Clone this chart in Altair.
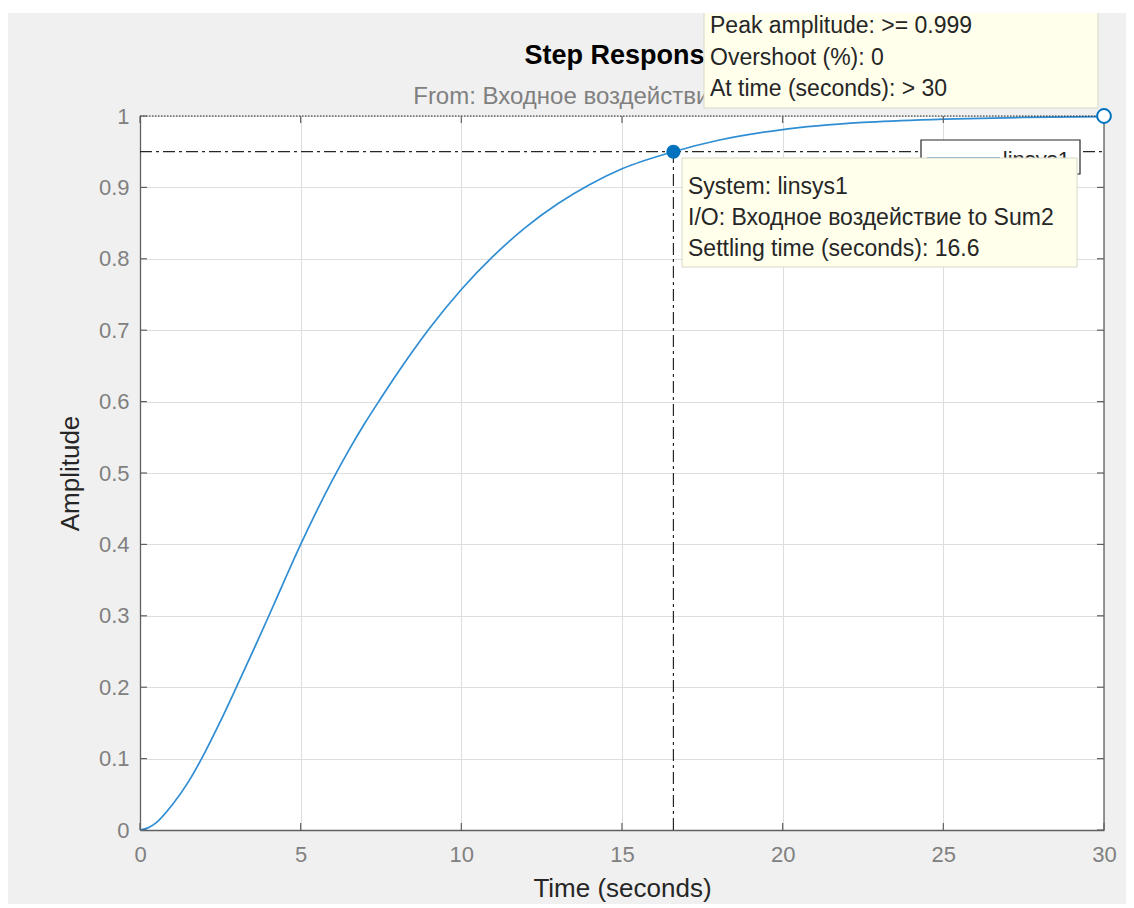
import altair as alt
import pandas as pd

# ---- data ----
time_s = [0, 0.25, 0.5, 1, 1.5, 2, 2.5, 3, 3.5, 4, 4.5, 5, 5.5, 6, 6.5, 7, 7.5, 8, 9, 10,
          11, 12, 13, 14, 15, 16.6, 18, 20, 22.5, 25, 27.5, 30]
amplitude = [0, 0.003, 0.010, 0.035, 0.067, 0.107, 0.152, 0.200, 0.249, 0.299, 0.350,
             0.400, 0.447, 0.491, 0.532, 0.570, 0.605, 0.639, 0.702, 0.757, 0.804,
             0.844, 0.877, 0.904, 0.926, 0.950, 0.966, 0.981, 0.991, 0.9955, 0.998, 0.999]

x_ticks = [0, 5, 10, 15, 20, 25, 30]
y_ticks = [0, 0.1, 0.2, 0.3, 0.4, 0.5, 0.6, 0.7, 0.8, 0.9, 1.0]

settling_time = 16.6
settling_level = 0.95
final_value = 1.0
peak_time = 30
peak_value = 1.0

title_text = "Step Response"
subtitle_text = "From: Входное воздействие  To: Sum2"
tip_peak = ["Peak amplitude: >= 0.999", "Overshoot (%): 0", "At time (seconds): > 30"]
tip_settle = ["System: linsys1", "I/O: Входное воздействие to Sum2", "Settling time (seconds): 16.6"]
legend_label = "linsys1"

W, H = 964, 714
FONT = "Liberation Sans"
BLUE = "#0072BD"
LINE_BLUE = "#2f8dd3"

curve = pd.DataFrame({"t": time_s, "a": amplitude})
xt = pd.DataFrame({"t": x_ticks})
yt = pd.DataFrame({"a": y_ticks})
one = pd.DataFrame({"k": [0]})

xs = alt.Scale(domain=[0, 30], nice=False, zero=False)
ys = alt.Scale(domain=[0, 1], nice=False, zero=False)

AX = alt.Axis(
    values=x_ticks, title="Time (seconds)", grid=True, gridColor="#dedede",
    ticks=False, tickSize=0, domainColor="#606060", domainWidth=1.3,
    labelColor="#808080", labelFontSize=22, labelFont=FONT, labelPadding=14,
    labelFlush=False, format="~g",
    titleFontSize=26, titleFont=FONT, titleColor="#262626", titleFontWeight="normal",
    titleBaseline="alphabetic", titleY=66)
AY = alt.Axis(
    values=y_ticks, title="Amplitude", grid=True, gridColor="#dedede",
    ticks=False, tickSize=0, domainColor="#606060", domainWidth=1.3,
    labelColor="#808080", labelFontSize=22, labelFont=FONT, labelPadding=11,
    labelFlush=False, format=".1~f",
    titleFontSize=26, titleFont=FONT, titleColor="#262626", titleFontWeight="normal",
    titleAngle=270, titleBaseline="alphabetic", titleAlign="center",
    titleX=-62, titleY=H / 2)


def X(field="t"):
    return alt.X(f"{field}:Q", scale=xs, axis=AX)


def Y(field="a"):
    return alt.Y(f"{field}:Q", scale=ys, axis=AY)


line = alt.Chart(curve).mark_line(color=LINE_BLUE, strokeWidth=1.7, interpolate="monotone").encode(
    x=X(), y=Y())

# inward ticks on all four sides
tick_style = dict(color="#606060", strokeWidth=1.2)
ticks_bottom = alt.Chart(xt).mark_rule(**tick_style).encode(x=X(), y=alt.value(H), y2=alt.value(H - 7))
ticks_top = alt.Chart(xt).mark_rule(**tick_style).encode(x=X(), y=alt.value(0), y2=alt.value(7))
ticks_left = alt.Chart(yt).mark_rule(**tick_style).encode(y=Y(), x=alt.value(0), x2=alt.value(7))
ticks_right = alt.Chart(yt).mark_rule(**tick_style).encode(y=Y(), x=alt.value(W), x2=alt.value(W - 7))
right_border = alt.Chart(one).mark_rule(color="#606060", strokeWidth=1.3).encode(
    x=alt.value(W), y=alt.value(0), y2=alt.value(H))

# steady-state dotted line (top)
steady = alt.Chart(pd.DataFrame({"a": [final_value], "t": [0], "t2": [30]})).mark_rule(
    color="#222222", strokeWidth=1, strokeDash=[1.5, 1.5]).encode(x=X(), x2="t2:Q", y=Y())

# settling dash-dot lines
dashdot = [12, 4, 3, 4]
h_settle = alt.Chart(pd.DataFrame({"a": [settling_level], "t": [0], "t2": [30]})).mark_rule(
    color="#262626", strokeWidth=1.2, strokeDash=dashdot).encode(x=X(), x2="t2:Q", y=Y())
v_settle = alt.Chart(pd.DataFrame({"t": [settling_time], "a": [0], "a2": [settling_level]})).mark_rule(
    color="#262626", strokeWidth=1.2, strokeDash=dashdot).encode(x=X(), y=Y(), y2="a2:Q")

# title and subtitle
title_mark = alt.Chart(one).mark_text(
    text=title_text, align="center", baseline="alphabetic", fontSize=27, fontWeight="bold",
    font=FONT, color="#000000").encode(x=alt.value(W / 2), y=alt.value(-52))
subtitle_mark = alt.Chart(one).mark_text(
    text=subtitle_text, align="center", baseline="alphabetic", fontSize=24,
    font=FONT, color="#808080").encode(x=alt.value(W / 2), y=alt.value(-12))

# legend box (partly hidden)
legend_box = alt.Chart(one).mark_rect(fill="white", stroke="#262626", strokeWidth=1.2).encode(
    x=alt.value(781), x2=alt.value(940), y=alt.value(24), y2=alt.value(58))
legend_sample = alt.Chart(one).mark_rule(color=LINE_BLUE, strokeWidth=1.5).encode(
    x=alt.value(787), x2=alt.value(860), y=alt.value(42))
legend_text = alt.Chart(one).mark_text(
    text=legend_label, align="right", baseline="alphabetic", fontSize=22, font=FONT, color="#262626"
).encode(x=alt.value(930), y=alt.value(51))

# markers
settle_pt = alt.Chart(pd.DataFrame({"t": [settling_time], "a": [settling_level]})).mark_point(
    shape="circle", filled=True, size=200, color=BLUE, opacity=1).encode(x=X(), y=Y())
peak_pt = alt.Chart(pd.DataFrame({"t": [peak_time], "a": [peak_value]})).mark_point(
    shape="circle", filled=True, size=190, fill="white", stroke=BLUE, strokeWidth=2, opacity=1
).encode(x=X(), y=Y())

# data tips
tip_box_style = dict(fill="#ffffec", stroke="#d8d8c8", strokeWidth=1)
tip1_box = alt.Chart(one).mark_rect(**tip_box_style).encode(
    x=alt.value(564), x2=alt.value(958), y=alt.value(-110), y2=alt.value(-8))
tip1_text = alt.Chart(one).mark_text(
    text=tip_peak, align="left", baseline="alphabetic", fontSize=23, font=FONT,
    color="#262626", lineHeight=31.5).encode(x=alt.value(570), y=alt.value(-83))
tip2_box = alt.Chart(one).mark_rect(**tip_box_style).encode(
    x=alt.value(542), x2=alt.value(937), y=alt.value(42), y2=alt.value(151))
tip2_text = alt.Chart(one).mark_text(
    text=tip_settle, align="left", baseline="alphabetic", fontSize=23, font=FONT,
    color="#262626", lineHeight=31).encode(x=alt.value(548), y=alt.value(78))

# white strip above the figure area
top_strip = alt.Chart(one).mark_rect(fill="white").encode(
    x=alt.value(-140), x2=alt.value(W + 40), y=alt.value(-120), y2=alt.value(-103))

chart = alt.layer(
    line, h_settle, v_settle, steady,
    ticks_bottom, ticks_top, ticks_left, ticks_right, right_border,
    title_mark, subtitle_mark,
    legend_box, legend_sample, legend_text,
    settle_pt, peak_pt,
    tip1_box, tip1_text, tip2_box, tip2_text,
    top_strip,
).properties(
    width=W, height=H,
    autosize=alt.AutoSizeParams(type="none"),
    padding={"left": 132, "top": 108, "right": 22, "bottom": 74},
).configure(background="#f0f0f0", font=FONT).configure_view(fill="white", stroke=None)

chart.save("out.html", embed_options={"renderer": "svg", "actions": False})
